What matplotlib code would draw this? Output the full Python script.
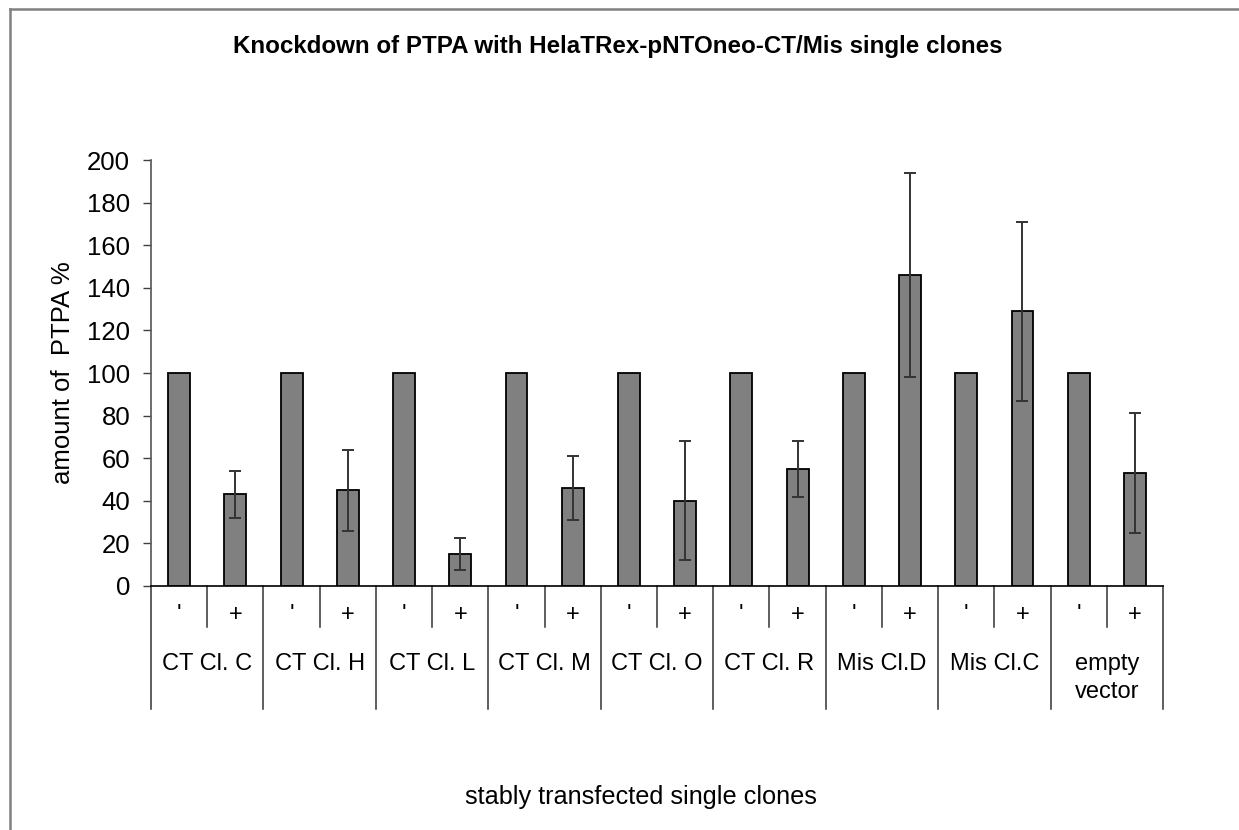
import numpy as np
import matplotlib
matplotlib.use("Agg")
import matplotlib.pyplot as plt
from matplotlib.lines import Line2D
from matplotlib.transforms import blended_transform_factory

plt.rcParams['font.family'] = ['Liberation Sans', 'DejaVu Sans']

# data
groups = ["CT Cl. C", "CT Cl. H", "CT Cl. L", "CT Cl. M", "CT Cl. O",
          "CT Cl. R", "Mis Cl.D", "Mis Cl.C", "empty\nvector"]
treat_labels = ["'", "+"]
minus_vals = [100, 100, 100, 100, 100, 100, 100, 100, 100]
plus_vals = [43, 45, 15, 46, 40, 55, 146, 129, 53]
plus_err = [11, 19, 7.5, 15, 28, 13, 48, 42, 28]

fig = plt.figure(figsize=(12.39, 8.30), dpi=100)
ax = fig.add_axes([0.1219, 0.294, 0.8168, 0.5132])

n = len(groups)
x_minus = np.arange(n) * 2
x_plus = x_minus + 1
bw = 0.39

ax.bar(x_minus, minus_vals, width=bw, color='#808080', edgecolor='black', linewidth=1.3, zorder=2)
ax.bar(x_plus, plus_vals, width=bw, color='#808080', edgecolor='black', linewidth=1.3, zorder=2)
ax.errorbar(x_plus, plus_vals, yerr=plus_err, fmt='none', ecolor='#333333',
            elinewidth=1.4, capsize=4, capthick=1.4, zorder=3)

ax.set_xlim(-0.5, 2 * n - 0.5)
ax.set_ylim(0, 200)
ax.set_yticks(np.arange(0, 201, 20))
ax.tick_params(axis='y', labelsize=18.5, length=6, width=1, color='#404040', direction='out', pad=9)
ax.set_xticks([])

for s in ['top', 'right']:
    ax.spines[s].set_visible(False)
ax.spines['left'].set_color('#555555')
ax.spines['left'].set_linewidth(1.2)
ax.spines['bottom'].set_color('black')
ax.spines['bottom'].set_linewidth(1.2)

ax.set_ylabel("amount of  PTPA %", fontsize=18.5, labelpad=9)

trans = blended_transform_factory(ax.transData, ax.transAxes)

# category separators below the axis
for b in np.arange(-0.5, 2 * n, 1.0):
    k = int(round(b + 0.5))
    bottom = -0.2887 if k % 2 == 0 else -0.0962
    ax.add_line(Line2D([b, b], [0, bottom], transform=trans, color='#333333',
                       linewidth=1.1, clip_on=False))

# treatment labels
for i in range(n):
    ax.text(x_minus[i], -0.068, treat_labels[0], transform=trans, ha='center', va='center',
            fontsize=17)
    ax.text(x_plus[i], -0.068, treat_labels[1], transform=trans, ha='center', va='center',
            fontsize=17)
    ax.text(x_minus[i] + 0.5, -0.1585, groups[i], transform=trans, ha='center', va='top',
            fontsize=17, linespacing=1.3)

fig.text(0.4988, 0.944, "Knockdown of PTPA with HelaTRex-pNTOneo-CT/Mis single clones",
         ha='center', va='center', fontsize=17.4, fontweight='bold')
fig.text(0.517, 0.040, "stably transfected single clones", ha='center', va='center', fontsize=18.2)

# chart area border (left and top only visible)
fig.add_artist(Line2D([0.0077, 0.0077], [0.0, 0.9892], transform=fig.transFigure,
                      color='#808080', linewidth=1.8))
fig.add_artist(Line2D([0.0077, 1.0], [0.9892, 0.9892], transform=fig.transFigure,
                      color='#808080', linewidth=1.8))

fig.savefig("out.png", dpi=100)
